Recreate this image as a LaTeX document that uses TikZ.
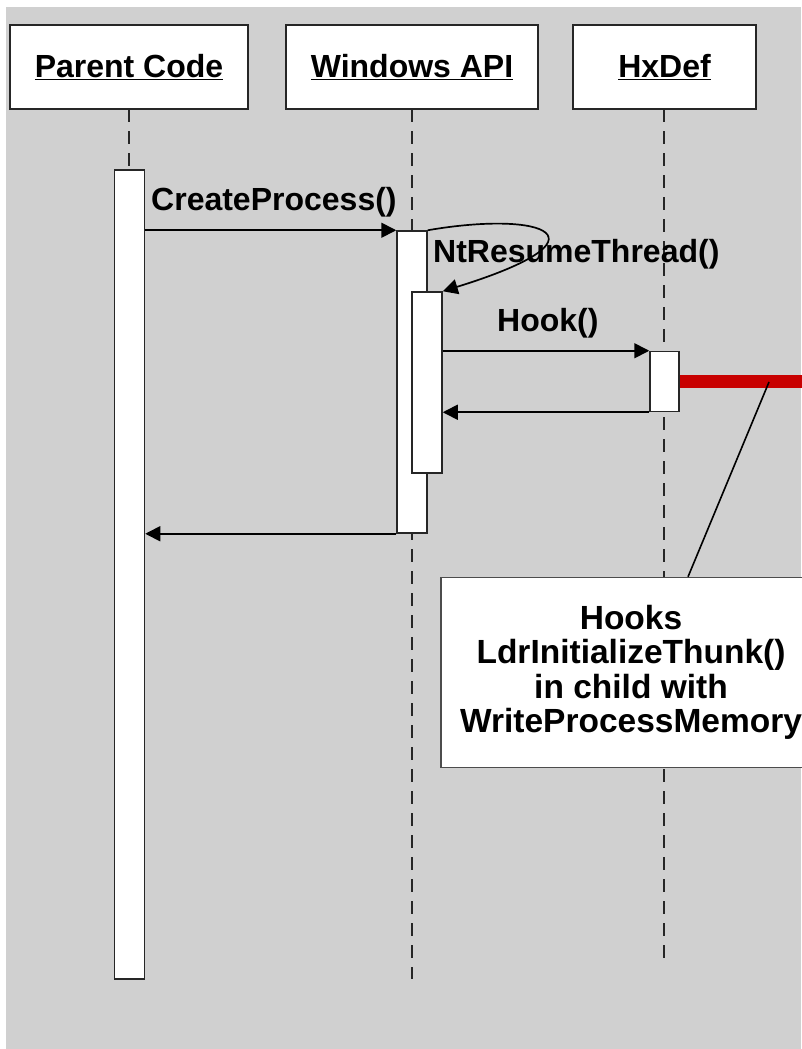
\documentclass[tikz,border=0pt]{standalone}
\usepackage{fontspec}
\setmainfont{Liberation Sans}
\usetikzlibrary{arrows.meta}

\definecolor{bggray}{HTML}{D0D0D0}
\definecolor{hookred}{HTML}{C80000}

\tikzset{
    header/.style={draw=black!85, line width=1.6pt, fill=white, minimum height=84pt,
        font=\fontsize{32}{36}\selectfont\bfseries},
    lifeline/.style={black!85, line width=1.3pt, dash pattern=on 13pt off 9pt},
    activation/.style={draw=black!85, line width=1.5pt, fill=white, minimum width=30pt},
    msg/.style={black, line width=1.7pt, -{Triangle[length=15pt,width=15pt]}},
    msglabel/.style={font=\fontsize{32}{36}\selectfont\bfseries, inner sep=0pt}
}

\begin{document}
\begin{tikzpicture}[x=1pt, y=-1pt]
    \useasboundingbox (0,0) rectangle (801,1049);
    % Grey canvas
    \fill[bggray] (6,7) rectangle (801,1049);

    % Lifelines
    \draw[lifeline] (129,109) -- (129,170);
    \draw[lifeline] (412,109) -- (412,979);
    \draw[lifeline] (664,109) -- (664,960);

    % Headers
    \node[header, minimum width=238pt] (parent) at (129,67) {\underline{Parent Code}};
    \node[header, minimum width=252pt] (winapi) at (412,67) {\underline{Windows API}};
    \node[header, minimum width=183pt] (hxdef) at (664.5,67) {\underline{HxDef}};

    % Activation bars
    \node[activation, minimum height=809pt] (parentbar) at (129.5,574.5) {};
    \node[activation, minimum height=302pt] (winbar) at (412,382) {};
    \node[activation, minimum height=181pt] (ntbar) at (427,382.5) {};
    \node[activation, minimum height=60pt, minimum width=29pt] (hookbar) at (664.5,381.5) {};

    % Red hook line and note
    \coordinate (hookend) at (810,381.5);
    \coordinate (pin) at (769,382);
    \draw[hookred, line width=13pt] (hookbar.east) -- (hookend);
    \node[draw=black!70, line width=1.3pt, fill=white, minimum width=380pt, minimum height=190pt,
        align=center, font=\fontsize{33.5}{34.5}\selectfont\bfseries] (note) at (631,672.5)
        {Hooks\\LdrInitializeThunk()\\in child with\\WriteProcessMemory};
    \draw[black, line width=1.6pt] (pin) -- ([xshift=57pt]note.north);

    % Messages
    \draw[msg] (parentbar.east |- winbar.north west) -- (winbar.north west);
    \node[msglabel, anchor=base west] (cplabel) at (151,210) {CreateProcess()};
    \draw[msg] (winbar.north east) .. controls (545,210) and (615,238) .. (ntbar.north east);
    \node[msglabel, anchor=base west] (ntlabel) at (433,262) {NtResumeThread()};
    \draw[msg] (ntbar.east |- hookbar.north west) -- (hookbar.north west);
    \node[msglabel, anchor=base west] (hooklabel) at (497,331) {Hook()};
    \draw[msg] (hookbar.south west) -- (ntbar.east |- hookbar.south west);
    \draw[msg] (winbar.south west) -- (parentbar.east |- winbar.south west);
\end{tikzpicture}
\end{document}
